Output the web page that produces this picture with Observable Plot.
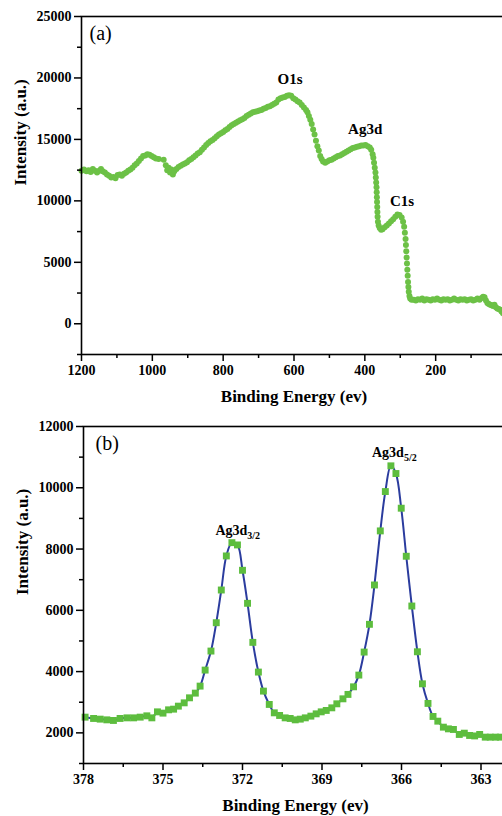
<!DOCTYPE html>
<html>
<head>
<meta charset="utf-8">
<script src="https://cdn.jsdelivr.net/npm/d3@7"></script>
<script src="https://cdn.jsdelivr.net/npm/@observablehq/plot@0.6"></script>
<style>
  html, body { margin: 0; padding: 0; background: white; }
  #wrap { position: relative; width: 502px; height: 816px; overflow: hidden; background: white; }
  #wrap svg { position: absolute; left: 0; max-width: none !important; }
</style>
</head>
<body>
<div id="wrap"></div>
<script>
// ---------- Panel (a): XPS survey ----------
const surveyBE = [
  1200,1193,1186,1180,1174,1168,1162,1156,1150,1145,1140,1134,1128,1122,1116,1110,1104,1098,1092,1086,
  1080,1074,1068,1062,1056,1050,1044,1038,1032,1026,1020,1014,1008,1002,996,990,982,968,
  962,958,954,950,946,942,938,932,926,920,914,908,902,896,890,884,878,872,866,860,854,848,842,836,830,
  824,818,812,806,800,794,788,782,776,770,764,758,752,746,740,734,728,722,716,710,704,698,692,686,680,
  674,668,662,656,650,644,638,632,626,620,614,608,602,596,590,584,578,572,566,562,558,554,550,546,542,
  538,534,530,526,522,518,512,506,500,494,488,482,476,470,464,458,452,446,440,434,428,422,416,410,404,
  398,392,386,382,378,376,374,372,370,369,368,367,366.5,366,365.5,365,364.5,364,363,361,358,354,350,344,
  338,332,326,320,314,308,302,296,292,289,287,285,284,283,282,281,280,279,278,277,276,274,272,268,
  262,256,250,244,238,232,226,220,214,208,202,196,190,184,178,172,166,160,154,148,142,136,130,124,118,
  112,106,100,94,88,82,76,70,66,62,58,54,50,46,42,38,34,30,26,22,18,14,10,6,2
];
const surveyCounts = [
  12450,12550,12400,12500,12350,12600,12450,12300,12450,12600,12400,12300,12150,12050,11900,11950,11850,12100,12150,12050,
  12200,12300,12450,12550,12700,12900,13050,13250,13450,13650,13700,13800,13750,13650,13550,13450,13400,13350,
  12900,12500,12700,12300,12550,12150,12400,12600,12750,12850,12950,13050,13150,13300,13400,13550,13700,13850,13950,14150,14350,14550,14700,14850,14950,
  15100,15250,15400,15500,15600,15750,15850,16000,16150,16250,16350,16450,16550,16650,16750,16900,17000,17100,17200,17250,17300,17350,17400,17500,17550,
  17650,17700,17800,17900,18000,18250,18350,18400,18450,18550,18600,18550,18350,18250,18100,18000,17800,17600,17400,17200,16900,16600,16250,15800,15400,
  14900,14450,14100,13650,13400,13200,13100,13200,13300,13350,13450,13550,13650,13700,13800,13900,14000,14100,14200,14300,14350,14400,14450,14500,14500,
  14550,14450,14350,14150,13800,13500,13100,12700,12300,11900,11500,11100,10700,10300,9900,9500,9100,8700,8300,8000,7800,7650,7700,7850,
  8000,8150,8350,8500,8700,8900,8850,8650,8300,7900,7400,6900,6400,5900,5400,4900,4400,3900,3400,3000,2600,2250,2050,1950,
  1950,1900,2000,1950,2050,1900,2000,1950,1900,2000,1950,2050,1950,1900,2000,1950,2000,1900,1950,2050,1950,1900,2000,1950,2000,
  1900,1950,2000,1900,1950,2050,1950,2100,2200,2150,1900,1700,1600,1550,1500,1450,1550,1350,1250,1200,1150,1000,850,1000,1200
];
const surveyXTicks = [1200, 1000, 800, 600, 400, 200, 0];
const surveyXMinor = [1100, 900, 700, 500, 300, 100];
const surveyYTicks = [0, 5000, 10000, 15000, 20000, 25000];
const surveyYMinor = [-2500, 2500, 7500, 12500, 17500, 22500];
const surveyPeakNames = ["O1s", "Ag3d", "C1s"];
const surveyPeakBE = [611, 399, 295];
const surveyPeakCounts = [19930, 15860, 10010];

// ---------- Panel (b): Ag 3d high resolution ----------
const ag3dBE = [
  377.94,377.62,377.37,377.12,376.87,376.62,376.36,376.11,375.86,375.61,375.42,375.21,375.00,374.79,374.60,374.42,374.20,374.00,
  373.78,373.60,373.41,373.19,372.99,372.80,372.61,372.40,372.19,372.00,371.81,371.61,371.40,371.21,370.99,370.80,370.60,370.39,
  370.20,370.01,369.82,369.63,369.42,369.22,369.03,368.84,368.63,368.44,368.21,368.02,367.81,367.61,367.41,367.21,367.02,366.80,
  366.61,366.40,366.21,366.01,365.82,365.61,365.40,365.21,365.00,364.81,364.63,364.42,364.23,364.04,363.82,363.63,363.43,363.24,
  363.05,362.84,362.65,362.45,362.27
];
const ag3dCounts = [
  2513,2470,2448,2425,2405,2470,2490,2490,2513,2556,2490,2686,2644,2752,2774,2872,2980,3144,
  3297,3526,4049,4670,5595,6663,7775,8209,8134,7307,6229,4954,3984,3363,2928,2654,2568,2490,
  2470,2425,2448,2490,2546,2621,2686,2732,2817,2948,3111,3255,3503,3886,4637,5543,6827,8592,
  9876,10716,10465,9333,7765,6140,4647,3601,2961,2536,2382,2186,2131,2111,1948,1990,1915,1900,
  1948,1860,1860,1860,1860
];
const ag3dXTicks = [378, 375, 372, 369, 366, 363];
const ag3dXMinor = [376.5, 373.5, 370.5, 367.5, 364.5];
const ag3dYTicks = [2000, 4000, 6000, 8000, 10000, 12000];
const ag3dYMinor = [1000, 3000, 5000, 7000, 9000, 11000];
const ag3dPeakMain = ["Ag3d", "Ag3d"];
const ag3dPeakSub = ["3/2", "5/2"];
const ag3dPeakBE = [372.18, 366.27];
const ag3dPeakCounts = [8590, 11140];

const xLabel = "Binding Energy (ev)";
const yLabel = "Intensity (a.u.)";

const GREEN = "#6cc146";
const SQGREEN = "#5dbd3e";
const BLUE = "#2b3c9e";
const FONT = "'Liberation Serif', 'Times New Roman', serif";

const survey = surveyBE.map((x, i) => ({x, y: surveyCounts[i]}));
const surveyPeaks = surveyPeakNames.map((t, i) => ({t, x: surveyPeakBE[i], y: surveyPeakCounts[i]}));
const ag3d = ag3dBE.map((x, i) => ({x, y: ag3dCounts[i]}));
const ag3dPeaks = ag3dPeakMain.map((t, i) => ({t, s: ag3dPeakSub[i], x: ag3dPeakBE[i], y: ag3dPeakCounts[i]}));

function axes(xt, xm, yt, ym) {
  return [
    Plot.axisX({ticks: xm, tickSize: 4, tickFormat: () => "", strokeWidth: 1.5, label: null}),
    Plot.axisY({ticks: ym, tickSize: 4, tickFormat: () => "", strokeWidth: 1.5, label: null}),
    Plot.axisX({ticks: xt, tickSize: 7, tickPadding: 4, tickFormat: d => String(d), strokeWidth: 1.5, label: null, fontSize: 14, fontWeight: "bold"}),
    Plot.axisY({ticks: yt, tickSize: 7, tickPadding: 3, tickFormat: d => String(d), strokeWidth: 1.5, label: null, fontSize: 14, fontWeight: "bold"}),
    Plot.frame({stroke: "black", strokeWidth: 1.6}),
    Plot.text([xLabel], {text: d => d, frameAnchor: "bottom", dy: 47, fontSize: 17, fontWeight: "bold"}),
    Plot.text([yLabel], {text: d => d, frameAnchor: "left", rotate: -90, dx: -61, fontSize: 17, fontWeight: "bold"})
  ];
}

const style = {fontFamily: FONT, fontSize: "14px", color: "black", background: "white", overflow: "visible"};

const plotA = Plot.plot({
  width: 520, height: 410,
  marginLeft: 81, marginRight: 14, marginTop: 16, marginBottom: 56,
  style,
  x: {domain: [1200, 0]},
  y: {domain: [-2500, 25000]},
  marks: [
    Plot.dot(survey, {x: "x", y: "y", r: 3, fill: GREEN, stroke: "none"}),
    Plot.text(surveyPeaks, {x: "x", y: "y", text: "t", fontSize: 15, fontWeight: "bold"}),
    Plot.text(["(a)"], {text: d => d, frameAnchor: "top-left", dx: 8, dy: 9, fontSize: 20, textAnchor: "start"}),
    ...axes(surveyXTicks, surveyXMinor, surveyYTicks, surveyYMinor)
  ]
});

const plotB = Plot.plot({
  width: 520, height: 406,
  marginLeft: 83, marginRight: 13, marginTop: 16, marginBottom: 53,
  style,
  x: {domain: [378, 362]},
  y: {domain: [1000, 12000]},
  marks: [
    Plot.line(ag3d, {x: "x", y: "y", stroke: BLUE, strokeWidth: 2, curve: "catmull-rom"}),
    Plot.dot(ag3d, {x: "x", y: "y", symbol: "square", r: 3.9, fill: SQGREEN, stroke: "none"}),
    Plot.text(ag3dPeaks, {x: "x", y: "y", text: "t", fontSize: 14, fontWeight: "bold"}),
    Plot.text(["(b)"], {text: d => d, frameAnchor: "top-left", dx: 12, dy: 9, fontSize: 20, textAnchor: "start"}),
    ...axes(ag3dXTicks, ag3dXMinor, ag3dYTicks, ag3dYMinor)
  ]
});

// add subscripts to the Ag3d peak labels (in data order)
let k = 0;
d3.select(plotB).selectAll("text").each(function() {
  if (this.textContent === "Ag3d" && k < ag3dPeaks.length) {
    d3.select(this).append("tspan").attr("dy", "4").attr("font-size", 10).text(ag3dPeaks[k].s);
    k++;
  }
});

plotA.style.top = "0px";
plotB.style.top = "410px";
const wrap = document.getElementById("wrap");
wrap.appendChild(plotA);
wrap.appendChild(plotB);
</script>
</body>
</html>
